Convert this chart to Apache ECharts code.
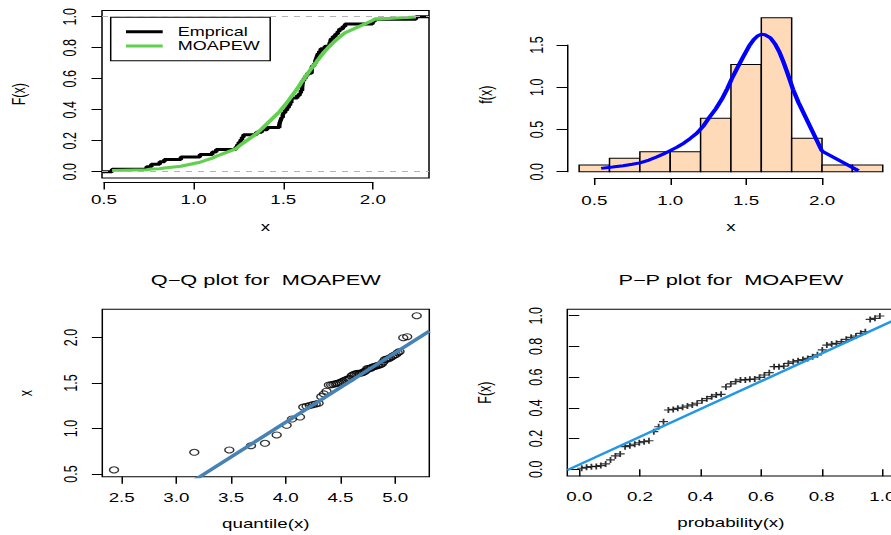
<!DOCTYPE html>
<html>
<head>
<meta charset="utf-8">
<script src="https://cdn.jsdelivr.net/npm/echarts@6/dist/echarts.min.js"></script>
<style>
  html, body { margin: 0; padding: 0; background: #fff; overflow: hidden; }
  #chart { position: absolute; left: 0; top: 0; height: 535px; transform-origin: 0 0; }
</style>
</head>
<body>
<div id="chart"></div>
<script>
// sorted observations (n = 63)
const obs = [
  0.545, 0.738, 0.764, 0.811, 0.837, 0.929, 1.035, 1.104, 1.126, 1.235,
  1.243, 1.252, 1.262, 1.270, 1.278, 1.350, 1.380, 1.410, 1.478, 1.481,
  1.486, 1.491, 1.497, 1.502, 1.510, 1.521, 1.530, 1.538, 1.545, 1.548,
  1.578, 1.591, 1.598, 1.605, 1.606, 1.608, 1.609, 1.616, 1.625, 1.634,
  1.658, 1.659, 1.661, 1.672, 1.679, 1.684, 1.689, 1.694, 1.701, 1.709,
  1.732, 1.758, 1.763, 1.767, 1.777, 1.791, 1.804, 1.813, 1.832, 1.845,
  1.998, 2.009, 2.240
];
// fitted MOAPEW cdf at each observation (P-P y values)
const fitCdf = [
  0.007, 0.013, 0.017, 0.019, 0.024, 0.035, 0.061, 0.087, 0.100, 0.147,
  0.154, 0.163, 0.173, 0.180, 0.186, 0.245, 0.277, 0.310, 0.386, 0.390,
  0.397, 0.404, 0.412, 0.419, 0.430, 0.447, 0.460, 0.473, 0.484, 0.488,
  0.536, 0.556, 0.571, 0.582, 0.582, 0.586, 0.588, 0.599, 0.614, 0.629,
  0.668, 0.668, 0.672, 0.690, 0.700, 0.707, 0.715, 0.722, 0.733, 0.745,
  0.777, 0.809, 0.815, 0.820, 0.831, 0.846, 0.859, 0.868, 0.885, 0.896,
  0.976, 0.983, 0.998
];
// P-P x values (plotting positions)
const ppProb = [
  0.008, 0.024, 0.040, 0.056, 0.071, 0.087, 0.103, 0.119, 0.135, 0.151,
  0.167, 0.183, 0.198, 0.214, 0.230, 0.246, 0.262, 0.278, 0.294, 0.310,
  0.325, 0.341, 0.357, 0.373, 0.389, 0.405, 0.421, 0.437, 0.452, 0.468,
  0.484, 0.500, 0.516, 0.532, 0.548, 0.563, 0.579, 0.595, 0.611, 0.627,
  0.643, 0.659, 0.675, 0.690, 0.706, 0.722, 0.738, 0.754, 0.770, 0.786,
  0.802, 0.817, 0.833, 0.849, 0.865, 0.881, 0.897, 0.913, 0.929, 0.944,
  0.960, 0.976, 0.992
];
// Q-Q x values (theoretical quantiles)
const qqTheo = [
  2.430, 3.164, 3.484, 3.682, 3.810, 3.917, 4.008, 4.057, 4.130, 4.160,
  4.190, 4.219, 4.247, 4.274, 4.300, 4.325, 4.349, 4.372, 4.394, 4.415,
  4.435, 4.454, 4.472, 4.490, 4.507, 4.524, 4.540, 4.556, 4.572, 4.587,
  4.602, 4.617, 4.632, 4.647, 4.662, 4.676, 4.690, 4.704, 4.718, 4.732,
  4.746, 4.760, 4.774, 4.788, 4.802, 4.817, 4.832, 4.847, 4.862, 4.877,
  4.892, 4.907, 4.922, 4.939, 4.956, 4.973, 4.990, 5.007, 5.023, 5.040,
  5.074, 5.110, 5.197
];
// histogram
const histBreaks = [0.4, 0.6, 0.8, 1.0, 1.2, 1.4, 1.6, 1.8, 2.0, 2.2, 2.4];
const histDensity = [0.079, 0.159, 0.238, 0.238, 0.635, 1.270, 1.825, 0.397, 0.079, 0.079];
// fitted density curve
const pdfX = [0.545, 0.62, 0.69, 0.75, 0.80, 0.86, 0.91, 0.955, 1.00, 1.045, 1.09, 1.13, 1.175,
              1.22, 1.26, 1.30, 1.34, 1.375, 1.405, 1.445, 1.48, 1.52, 1.55, 1.575, 1.60, 1.625,
              1.66, 1.69, 1.72, 1.745, 1.77, 1.79, 1.81, 1.845, 1.998, 2.009, 2.24];
const pdfY = [0.040, 0.055, 0.070, 0.088, 0.105, 0.138, 0.175, 0.210, 0.250, 0.292, 0.340, 0.392, 0.455,
              0.545, 0.650, 0.745, 0.860, 0.980, 1.100, 1.240, 1.360, 1.490, 1.565, 1.608, 1.628, 1.622,
              1.585, 1.515, 1.415, 1.305, 1.180, 1.075, 0.970, 0.820, 0.250, 0.235, 0.012];
// reference lines (intercept, slope)
const qqLine = [-1.985, 0.7635];
const ppLine = [0.03, 0.905];
// tick labels
const unitTicks = [0, 0.2, 0.4, 0.6, 0.8, 1.0];
const qqXTicks = [2.5, 3.0, 3.5, 4.0, 4.5, 5.0];
const qqYTicks = [0.5, 1.0, 1.5, 2.0];

// the reference picture is stretched horizontally
const S = 1.5;
const W = 891 / S;
const X = v => v / S;
const FONT = '"Liberation Sans", Arial, Helvetica, sans-serif';
const TICK_FS = 12.5;
const NAME_FS = 12.5;

// plot regions in picture pixels
const boxes = [
  { l: 102, t: 10.5, w: 327, h: 167.4 },
  { l: 567, t: 11.5, w: 327.9, h: 166.4 },
  { l: 102.3, t: 309.3, w: 327, h: 167.4 },
  { l: 567.3, t: 309.3, w: 327.1, h: 166.7 }
];
const ranges = [
  { x: [0.489, 2.313], y: [-0.04, 1.04] },
  { x: [0.32, 2.48], y: [-0.073, 1.898] },
  { x: [2.323, 5.312], y: [0.47, 2.31] },
  { x: [-0.0396, 1.04], y: [-0.0436, 1.0417] }
];
const px = (k, v) => boxes[k].l + (v - ranges[k].x[0]) / (ranges[k].x[1] - ranges[k].x[0]) * boxes[k].w;
const py = (k, v) => boxes[k].t + boxes[k].h - (v - ranges[k].y[0]) / (ranges[k].y[1] - ranges[k].y[0]) * boxes[k].h;

const el = document.getElementById('chart');
el.style.width = W + 'px';
el.style.transform = 'scaleX(' + S + ')';
const chart = echarts.init(el, null, { renderer: 'svg', width: W, height: 535 });

const fmt1 = v => Number(v).toFixed(1);
const black = { color: '#000', width: 1 };
const nameStyle = { color: '#000', fontSize: NAME_FS, fontFamily: FONT };

function mainGrid(k, box) {
  const b = boxes[k];
  return { left: X(b.l), top: b.t, width: X(b.w), height: b.h, show: box,
           borderColor: '#000', borderWidth: 1, backgroundColor: 'transparent', outerBoundsMode: 'none' };
}
function plainAxis(grid, range, extra) {
  return Object.assign({
    type: 'value', gridIndex: grid, min: range[0], max: range[1],
    axisLine: { show: false }, axisTick: { show: false }, axisLabel: { show: false },
    splitLine: { show: false }, nameTextStyle: nameStyle
  }, extra);
}
function ticked(values, margin, rotate) {
  return {
    axisTick: { show: true, customValues: values, length: 7, lineStyle: black },
    axisLabel: { show: true, customValues: values, formatter: fmt1, margin: margin, rotate: rotate || 0,
                 color: '#000', fontSize: TICK_FS, fontFamily: FONT }
  };
}
function lineAxis(grid, min, max, step, margin, rotate) {
  return {
    type: 'value', gridIndex: grid, min: min, max: max, interval: step,
    axisLine: { show: true, lineStyle: black },
    axisTick: { show: true, length: 7, lineStyle: black },
    axisLabel: { formatter: fmt1, margin: margin, rotate: rotate || 0, color: '#000', fontSize: TICK_FS, fontFamily: FONT },
    splitLine: { show: false }
  };
}

// axis lines that run only between the first and last tick
const ecdfAxisY = 182.5;
const a4 = { left: X(px(0, 0.5)), width: X(px(0, 2.0) - px(0, 0.5)), top: ecdfAxisY - 1, height: 1, outerBoundsMode: 'none' };
const histAxisY = boxes[1].t + boxes[1].h;
const a5 = { left: X(px(1, 0.5)), width: X(px(1, 2.0) - px(1, 0.5)), top: histAxisY - 1, height: 1, outerBoundsMode: 'none' };
const a6 = { left: X(boxes[1].l), width: 1, top: py(1, 1.5), height: py(1, 0) - py(1, 1.5), outerBoundsMode: 'none' };

const n = obs.length;
const ecdfPts = [[ranges[0].x[0], 0]].concat(obs.map((v, i) => [v, (i + 1) / n]), [[ranges[0].x[1], 1]]);
const histData = histDensity.map((d, i) => [histBreaks[i], histBreaks[i + 1], d]);
const refLine = (k, c) => [ranges[k].x[0], ranges[k].x[1]].map(x => [x, c[0] + c[1] * x]);

const option = {
  animation: false,
  backgroundColor: '#fff',
  textStyle: { fontFamily: FONT },
  grid: [mainGrid(0, true), mainGrid(1, false), mainGrid(2, true), mainGrid(3, true), a4, a5, a6],
  xAxis: [
    plainAxis(0, ranges[0].x, { name: 'x', nameLocation: 'middle', nameGap: 42 }),
    plainAxis(1, ranges[1].x, { name: 'x', nameLocation: 'middle', nameGap: 42 }),
    plainAxis(2, ranges[2].x, Object.assign({ name: 'quantile(x)', nameLocation: 'middle', nameGap: 40 }, ticked(qqXTicks, 14))),
    plainAxis(3, ranges[3].x, Object.assign({ name: 'probability(x)', nameLocation: 'middle', nameGap: 40 }, ticked(unitTicks, 14))),
    lineAxis(4, 0.5, 2.0, 0.5, 11),
    lineAxis(5, 0.5, 2.0, 0.5, 16),
    { type: 'value', gridIndex: 6, show: false }
  ],
  yAxis: [
    plainAxis(0, ranges[0].y, Object.assign({ name: 'F(x)', nameLocation: 'middle', nameGap: 49 }, ticked(unitTicks, 15, 90))),
    plainAxis(1, ranges[1].y, { name: 'f(x)', nameLocation: 'middle', nameGap: 48 }),
    plainAxis(2, ranges[2].y, Object.assign({ name: 'x', nameLocation: 'middle', nameGap: 45 }, ticked(qqYTicks, 15, 90))),
    plainAxis(3, ranges[3].y, Object.assign({ name: 'F(x)', nameLocation: 'middle', nameGap: 49 }, ticked(unitTicks, 15, 90))),
    { type: 'value', gridIndex: 4, show: false },
    { type: 'value', gridIndex: 5, show: false },
    lineAxis(6, 0, 1.5, 0.5, 14, 90)
  ],
  legend: {
    left: X(110.7), top: 17.3, orient: 'vertical', selectedMode: false,
    data: [{ name: 'Emprical', icon: 'rect' }, { name: 'MOAPEW', icon: 'rect' }],
    itemWidth: X(36.7), itemHeight: 3, itemGap: 2.3,
    padding: [8.4, 7, 8.7, X(15.3)],
    borderColor: '#000', borderWidth: 1, borderRadius: 0,
    textStyle: { color: '#000', fontSize: 12, fontFamily: FONT, padding: [0, 0, 0, 5] }
  },
  graphic: [
    { type: 'text', x: X((boxes[2].l * 2 + boxes[2].w) / 2), y: 279.5,
      style: { text: 'Q\u2212Q plot for\u00a0 MOAPEW', fill: '#000', fontSize: 14.5, fontFamily: FONT,
               textAlign: 'center', textVerticalAlign: 'middle' } },
    { type: 'text', x: X((boxes[3].l * 2 + boxes[3].w) / 2), y: 279.5,
      style: { text: 'P\u2212P plot for\u00a0 MOAPEW', fill: '#000', fontSize: 14.5, fontFamily: FONT,
               textAlign: 'center', textVerticalAlign: 'middle' } }
  ],
  series: [
    {
      name: 'Emprical', type: 'line', xAxisIndex: 0, yAxisIndex: 0, step: 'end',
      data: ecdfPts, showSymbol: false, symbol: 'none', silent: true,
      itemStyle: { color: '#000' }, lineStyle: { color: '#000', width: 3 },
      markLine: {
        silent: true, symbol: 'none', label: { show: false },
        lineStyle: { color: '#b3b3b3', type: [4, 4], width: 1 },
        data: [{ yAxis: 0 }, { yAxis: 1 }]
      }
    },
    {
      name: 'MOAPEW', type: 'line', xAxisIndex: 0, yAxisIndex: 0,
      data: obs.map((v, i) => [v, fitCdf[i]]), showSymbol: false, symbol: 'none', silent: true,
      itemStyle: { color: '#61D04F' }, lineStyle: { color: '#61D04F', width: 3 }
    },
    {
      type: 'custom', xAxisIndex: 1, yAxisIndex: 1, data: histData, silent: true,
      encode: { x: [0, 1], y: 2 },
      renderItem: function (params, api) {
        const p0 = api.coord([api.value(0), api.value(2)]);
        const p1 = api.coord([api.value(1), 0]);
        return { type: 'rect', shape: { x: p0[0], y: p0[1], width: p1[0] - p0[0], height: p1[1] - p0[1] },
                 style: { fill: '#FFDAB9', stroke: '#000', lineWidth: 1 } };
      }
    },
    {
      type: 'line', xAxisIndex: 1, yAxisIndex: 1, data: pdfX.map((v, i) => [v, pdfY[i]]),
      showSymbol: false, symbol: 'none', silent: true,
      lineStyle: { color: '#0000FF', width: 3 }
    },
    {
      type: 'scatter', xAxisIndex: 2, yAxisIndex: 2, data: qqTheo.map((v, i) => [v, obs[i]]),
      symbol: 'circle', symbolSize: 6, silent: true,
      itemStyle: { color: 'rgba(0,0,0,0)', borderColor: '#000', borderWidth: 1 }
    },
    {
      type: 'line', xAxisIndex: 2, yAxisIndex: 2, data: refLine(2, qqLine), clip: true,
      showSymbol: false, symbol: 'none', silent: true,
      lineStyle: { color: '#4682B4', width: 3 }
    },
    {
      type: 'scatter', xAxisIndex: 3, yAxisIndex: 3, data: ppProb.map((p, i) => [p, fitCdf[i]]),
      symbol: 'path://M0,5L10,5M5,0L5,10', symbolSize: 6, silent: true,
      itemStyle: { color: 'rgba(0,0,0,0)', borderColor: '#000', borderWidth: 1.2 }
    },
    {
      type: 'line', xAxisIndex: 3, yAxisIndex: 3, data: refLine(3, ppLine), clip: true,
      showSymbol: false, symbol: 'none', silent: true,
      lineStyle: { color: '#2297E6', width: 2.2 }
    }
  ]
};
chart.setOption(option);
</script>
</body>
</html>
